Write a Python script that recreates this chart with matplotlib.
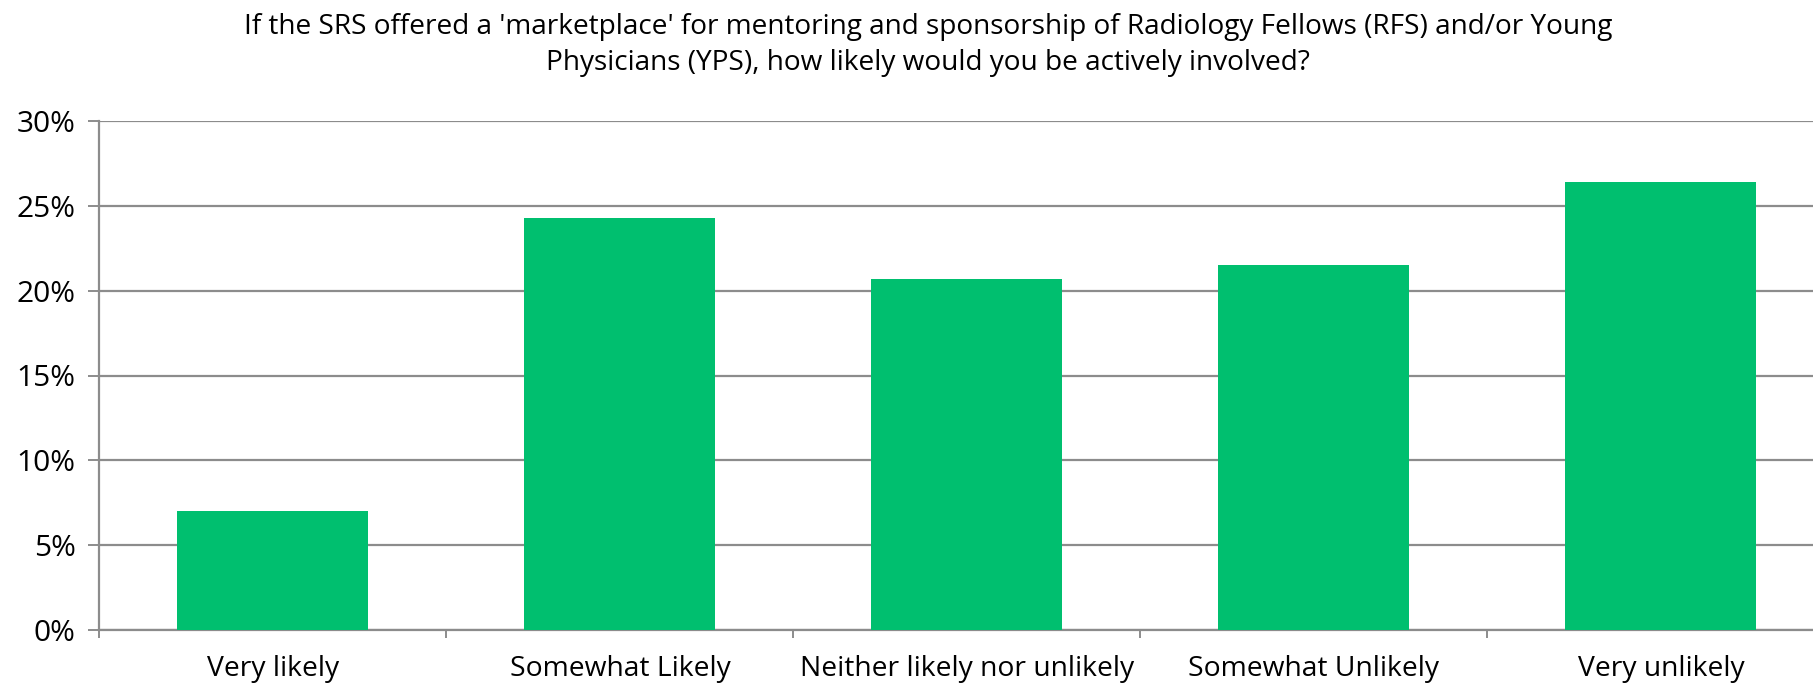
import matplotlib
matplotlib.use("Agg")
import matplotlib.pyplot as plt
import numpy as np
from matplotlib.ticker import FuncFormatter, FixedLocator

categories = ["Very likely", "Somewhat Likely", "Neither likely nor unlikely",
              "Somewhat Unlikely", "Very unlikely"]
values = [0.070, 0.243, 0.207, 0.215, 0.264]
yticks = [0, 0.05, 0.10, 0.15, 0.20, 0.25, 0.30]
title = ("If the SRS offered a 'marketplace' for mentoring and sponsorship of Radiology Fellows (RFS) and/or Young\n"
         "Physicians (YPS), how likely would you be actively involved?")

plt.rcParams['font.family'] = ['Open Sans', 'DejaVu Sans']

W, H = 1813, 688
fig = plt.figure(figsize=(W / 100, H / 100), dpi=100)
left = 99.4 / W
width = 1735 / W
bottom = (H - 630) / H
top = (H - 121) / H
ax = fig.add_axes([left, bottom, width, top - bottom])

x = np.arange(len(categories))
ax.bar(x, values, width=0.55, color="#00BF6F", zorder=3)

ax.set_xlim(-0.5, len(categories) - 0.5)
ax.set_ylim(0, 0.30)
ax.set_yticks(yticks)
ax.yaxis.set_major_formatter(FuncFormatter(lambda v, p: f"{v*100:.0f}%"))
ax.yaxis.grid(True, color="#8C8C8C", linewidth=1.6, zorder=0)
ax.set_axisbelow(True)

ax.set_xticks(x)
ax.set_xticklabels(categories)
ax.xaxis.set_minor_locator(FixedLocator(np.arange(-0.5, len(categories), 1.0)))
ax.tick_params(axis='x', which='major', length=0, pad=18, labelsize=20.3, colors="#000000")
ax.tick_params(axis='x', which='minor', length=6, width=1.4, color="#8C8C8C")
ax.tick_params(axis='y', which='major', length=8, width=1.4, color="#8C8C8C", pad=9,
               labelsize=21.5, labelcolor="#000000")

for s in ['top', 'right']:
    ax.spines[s].set_visible(False)
ax.spines['left'].set_color("#8C8C8C")
ax.spines['left'].set_linewidth(1.6)
ax.spines['bottom'].set_color("#8C8C8C")
ax.spines['bottom'].set_linewidth(1.6)

fig.text(928 / W, 1 - 45 / H, title, ha='center', va='center', fontsize=20.2,
         linespacing=1.4, color="#000000")

fig.savefig("out.png", dpi=100)
